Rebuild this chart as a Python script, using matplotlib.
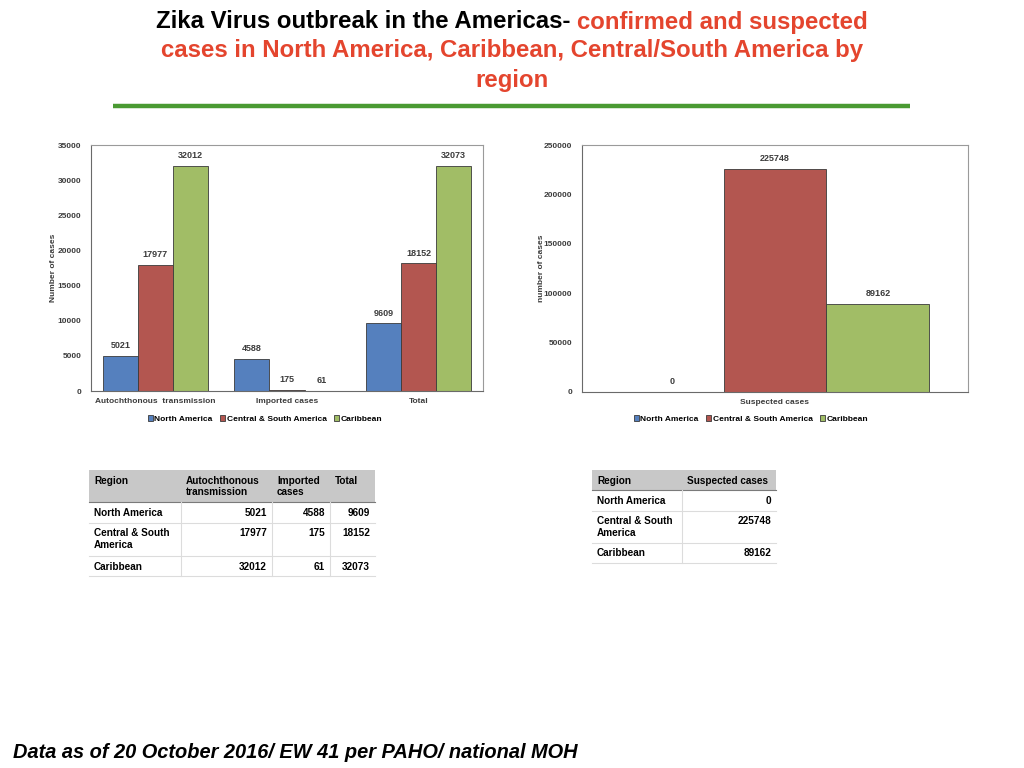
import numpy as np
import matplotlib
matplotlib.use('Agg')
import matplotlib.pyplot as plt
from matplotlib.patches import Rectangle

plt.rcParams['font.family'] = ['Liberation Sans', 'DejaVu Sans']

# data
regions = ['North America', 'Central & South America', 'Caribbean']
confirmed_cats = ['Autochthonous  transmission', 'Imported cases', 'Total']
autochthonous = [5021, 17977, 32012]
imported = [4588, 175, 61]
total = [9609, 18152, 32073]
suspected_cats = ['Suspected cases']
suspected = [0, 225748, 89162]

colors = ['#5580be', '#b35650', '#a1bd66']
txt_gray = '#3c3c3c'
title_red = '#e4452e'

W, H = 1024, 768
fig = plt.figure(figsize=(W / 100, H / 100), dpi=100)

# overlay in pixel coords for title, rule and tables
ov = fig.add_axes([0, 0, 1, 1], zorder=0)
ov.set_xlim(0, W)
ov.set_ylim(H, 0)
ov.axis('off')


def fx(px):
    return px / W


def fy(py):
    return 1 - py / H


# ---- title ----
tsize = 17.3
t1 = fig.text(0, fy(22), 'Zika Virus outbreak in the Americas-', fontsize=tsize,
              fontweight='bold', va='center', ha='left', color='black')
t2 = fig.text(0, fy(22), 'confirmed and suspected', fontsize=tsize,
              fontweight='bold', va='center', ha='left', color=title_red)
fig.canvas.draw()
rend = fig.canvas.get_renderer()
w1 = t1.get_window_extent(rend).width
w2 = t2.get_window_extent(rend).width
gap = 6
x0 = (W - (w1 + gap + w2)) / 2
t1.set_x(fx(x0))
t2.set_x(fx(x0 + w1 + gap))
fig.text(0.5, fy(51), 'cases in North America, Caribbean, Central/South America by',
         fontsize=tsize, fontweight='bold', va='center', ha='center', color=title_red)
fig.text(0.5, fy(80), 'region', fontsize=tsize, fontweight='bold', va='center',
         ha='center', color=title_red)
ov.plot([113, 910], [105.5, 105.5], color='#4a9a32', lw=3.2, solid_capstyle='butt')

# ---- left chart: confirmed cases ----
ax1 = fig.add_axes([fx(91), fy(391), fx(483 - 91), (391 - 145) / H])
n = len(regions)
bw = 0.8 / n
x = np.arange(len(confirmed_cats))
for i, reg in enumerate(regions):
    vals = [autochthonous[i], imported[i], total[i]]
    pos = x + (i - (n - 1) / 2) * bw
    bars = ax1.bar(pos, vals, bw, color=colors[i], edgecolor='#3a3a3a', lw=0.6, label=reg)
    for b, v in zip(bars, vals):
        ax1.annotate(str(v), (b.get_x() + b.get_width() / 2, v), xytext=(0, 4),
                     textcoords='offset points', ha='center', va='bottom',
                     fontsize=6.5, fontweight='bold', color=txt_gray)
ax1.set_xlim(-0.49, 2.49)
ax1.set_ylim(0, 35000)
ax1.set_yticks(np.arange(0, 35001, 5000))
ax1.set_xticks(x)
ax1.set_xticklabels(confirmed_cats)
ax1.set_ylabel('Number of cases', fontsize=6, color=txt_gray)
ax1.yaxis.set_label_coords(-0.087, 0.5)

# ---- right chart: suspected cases ----
ax2 = fig.add_axes([fx(582), fy(392), fx(968 - 582), (392 - 145) / H])
x2 = np.arange(len(suspected_cats))
for i, reg in enumerate(regions):
    pos = x2 + (i - (n - 1) / 2) * bw
    bars = ax2.bar(pos, [suspected[i]], bw, color=colors[i], edgecolor='#3a3a3a', lw=0.6, label=reg)
    for b in bars:
        ax2.annotate(str(suspected[i]), (b.get_x() + b.get_width() / 2, suspected[i]),
                     xytext=(0, 4), textcoords='offset points', ha='center', va='bottom',
                     fontsize=6.5, fontweight='bold', color=txt_gray)
ax2.set_xlim(-0.5, 0.5)
ax2.set_ylim(0, 250000)
ax2.set_yticks(np.arange(0, 250001, 50000))
ax2.set_xticks(x2)
ax2.set_xticklabels(suspected_cats)
ax2.set_ylabel('number of cases', fontsize=6, color=txt_gray)
ax2.yaxis.set_label_coords(-0.095, 0.5)

for ax, lx in ((ax1, 265), (ax2, 751)):
    for sp in ax.spines.values():
        sp.set_color('#9a9a9a')
        sp.set_linewidth(0.8)
    ax.spines['left'].set_color('#6a6a6a')
    ax.spines['bottom'].set_color('#6a6a6a')
    ax.tick_params(length=0, labelsize=6, colors=txt_gray, pad=7)
    ax.tick_params(axis='x', pad=5)
    for lab in ax.get_xticklabels() + ax.get_yticklabels():
        lab.set_fontweight('bold')
    ax.yaxis.label.set_fontweight('bold')
    fig.legend(*ax.get_legend_handles_labels(), loc='center',
               bbox_to_anchor=(fx(lx), fy(419)), ncol=3, frameon=False,
               handlelength=0.6, handleheight=0.6,
               handletextpad=0.2, columnspacing=0.9, prop={'weight': 'bold', 'size': 6})


# ---- tables ----
def cell_text(xx, yy, s, ha):
    # one text per line so line spacing is fixed at 11 px
    for k, line in enumerate(s.split('\n')):
        ov.text(xx, yy + k * 11.5, line, fontsize=7.2, fontweight='bold',
                va='top', ha=ha, color='black')


def draw_table(cols_x, rows_y, header, body, right_cols):
    x_left, x_right = cols_x[0], cols_x[-1]
    ov.add_patch(Rectangle((x_left, rows_y[0]), x_right - x_left, rows_y[1] - rows_y[0],
                           facecolor='#c8c8c8', edgecolor='none'))
    ov.plot([x_left, x_right], [rows_y[1], rows_y[1]], color='#7a7a7a', lw=0.8)
    for yy in rows_y[2:]:
        ov.plot([x_left, x_right], [yy, yy], color='#dcdcdc', lw=0.8)
    for xx in cols_x[1:-1]:
        ov.plot([xx, xx], [rows_y[1], rows_y[-1]], color='#dcdcdc', lw=0.8)
    for j, h in enumerate(header):
        cell_text(cols_x[j] + 5, rows_y[0] + 5.5, h, 'left')
    for r, row in enumerate(body):
        for j, val in enumerate(row):
            if j in right_cols:
                cell_text(cols_x[j + 1] - 5, rows_y[r + 1] + 5.5, val, 'right')
            else:
                cell_text(cols_x[j] + 5, rows_y[r + 1] + 5.5, val, 'left')


row_names = ['North America', 'Central & South\nAmerica', 'Caribbean']
body1 = [[row_names[i], str(autochthonous[i]), str(imported[i]), str(total[i])]
         for i in range(n)]
draw_table([89, 181, 272, 330, 375], [470, 502, 523, 556, 576],
           ['Region', 'Autochthonous\ntransmission', 'Imported\ncases', 'Total'],
           body1, right_cols=[1, 2, 3])
body2 = [[row_names[i], str(suspected[i])] for i in range(n)]
draw_table([592, 682, 776], [470, 490, 511, 543, 563],
           ['Region', 'Suspected cases'], body2, right_cols=[1])

# ---- footer ----
fig.text(fx(13), fy(753), 'Data as of 20 October 2016/ EW 41 per PAHO/ national MOH',
         fontsize=14.4, fontweight='bold', fontstyle='italic', va='center', ha='left')

fig.savefig('out.png', dpi=100)
